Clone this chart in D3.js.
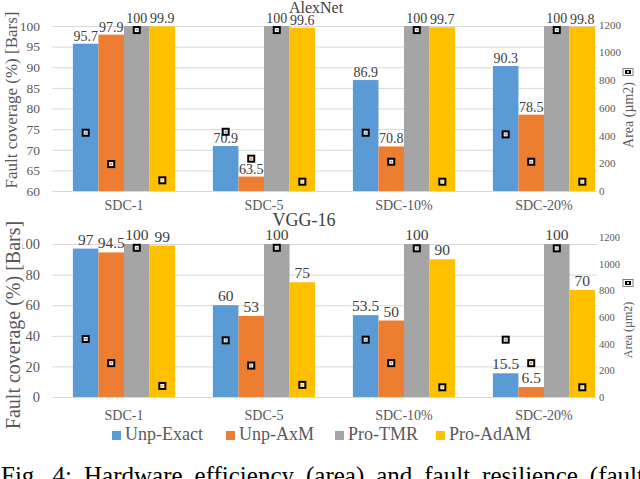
<!DOCTYPE html>
<html><head><meta charset="utf-8">
<script src="https://cdn.jsdelivr.net/npm/d3@7/dist/d3.min.js"></script>
<style>
html,body{margin:0;padding:0;background:#fff;}
svg{display:block;font-family:"Liberation Serif","Times New Roman",serif;}
svg text{font-family:"Liberation Serif","Times New Roman",serif;}
</style></head>
<body>
<svg id="c" width="640" height="479"></svg>
<script>
// ---- data ----
const categories = ["SDC-1", "SDC-5", "SDC-10%", "SDC-20%"];
const seriesNames = ["Unp-Exact", "Unp-AxM", "Pro-TMR", "Pro-AdAM"];
const seriesColors = ["#5B9BD5", "#ED7D31", "#A5A5A5", "#FFC000"];

// AlexNet fault coverage (%)
const alexExact = [95.7, 70.9, 86.9, 90.3];
const alexAxM   = [97.9, 63.5, 70.8, 78.5];
const alexTMR   = [100, 100, 100, 100];
const alexAdAM  = [99.9, 99.6, 99.7, 99.8];
// AlexNet area (um2) markers
const alexAreaExact = [420, 427, 420, 408];
const alexAreaAxM   = [194, 233, 211, 211];
const alexAreaTMR   = [1160, 1160, 1160, 1160];
const alexAreaAdAM  = [77, 67, 67, 67];

// VGG-16 fault coverage (%)
const vggExact = [97, 60, 53.5, 15.5];
const vggAxM   = [94.5, 53, 50, 6.5];
const vggTMR   = [100, 100, 100, 100];
const vggAdAM  = [99, 75, 90, 70];
// VGG-16 area (um2) markers
const vggAreaExact = [435, 425, 430, 430];
const vggAreaAxM   = [254, 236, 254, 254];
const vggAreaTMR   = [1119, 1119, 1115, 1115];
const vggAreaAdAM  = [83, 91, 73, 73];

// tick labels
const alexTicks = [60, 65, 70, 75, 80, 85, 90, 95, 100];
const vggTicks  = [0, 20, 40, 60, 80, 100];
const areaTicks = [0, 200, 400, 600, 800, 1000, 1200];

const captionText = "Fig. 4: Hardware efficiency (area) and fault resilience (fault";

// ---- layout ----
const svg = d3.select("#c");
const plotL = 52, plotR = 597;
const x = d3.scaleBand(categories, [54, 614]).paddingInner(0.27).paddingOuter(0.135);
const xs = d3.scaleBand(seriesNames, [0, x.bandwidth()]);

const panels = [
  { title: "AlexNet", titleX: 316, titleY: 13, titleSize: 16,
    cov: [alexExact, alexAxM, alexTMR, alexAdAM],
    area: [alexAreaExact, alexAreaAxM, alexAreaTMR, alexAreaAdAM],
    yDomain: [60, 100], yRange: [191, 26], rRange: [191, 24.5], ticks: alexTicks,
    tickSize: 13.5, rTickSize: 11, labelSize: 14, labelGap: 3, catPad: 9,
    yTitleX: 11, yTitleY: 100, yTitleSize: 17, yTitleStroke: 4,
    rTitleX: 628, rTitleY: 115, rTitleSize: 14, rIconY: 72 },
  { title: "VGG-16", titleX: 304, titleY: 226, titleSize: 18,
    cov: [vggExact, vggAxM, vggTMR, vggAdAM],
    area: [vggAreaExact, vggAreaAxM, vggAreaTMR, vggAreaAdAM],
    yDomain: [0, 100], yRange: [397, 244], rRange: [397, 237], ticks: vggTicks,
    tickSize: 14.5, rTickSize: 10.5, labelSize: 15.5, labelGap: 4, catPad: 13,
    yTitleX: 13, yTitleY: 325, yTitleSize: 20, yTitleStroke: 5,
    rTitleX: 628, rTitleY: 330, rTitleSize: 12, rIconY: 283 }
];

panels.forEach(p => {
  const g = svg.append("g");
  const y = d3.scaleLinear(p.yDomain, p.yRange);
  const yr = d3.scaleLinear([0, 1200], p.rRange);

  // left axis with gridlines
  const ax = g.append("g").attr("transform", `translate(${plotL},0)`)
    .call(d3.axisLeft(y).tickValues(p.ticks).tickFormat(d3.format("d"))
      .tickSize(-(plotR - plotL)).tickPadding(12));
  ax.attr("font-family", null);
  ax.select(".domain").remove();
  ax.selectAll("line").attr("stroke", "#D9D9D9").attr("stroke-width", 1);
  ax.selectAll("text").attr("fill", "#595959").style("font-size", p.tickSize + "px");

  // right axis
  const ar = g.append("g").attr("transform", `translate(${plotR},0)`)
    .call(d3.axisRight(yr).tickValues(areaTicks).tickFormat(d3.format("d"))
      .tickSize(0).tickPadding(2));
  ar.attr("font-family", null);
  ar.select(".domain").remove();
  ar.selectAll("text").attr("fill", "#595959").style("font-size", p.rTickSize + "px");

  // category axis
  const base = p.yRange[0];
  const ab = g.append("g").attr("transform", `translate(0,${base})`)
    .call(d3.axisBottom(x).tickSize(0).tickPadding(p.catPad));
  ab.attr("font-family", null);
  ab.select(".domain").remove();
  ab.selectAll("text").attr("fill", "#595959").style("font-size", "14px");

  // bars
  seriesNames.forEach((s, si) => {
    const vals = p.cov[si];
    g.append("g").selectAll("rect").data(categories).join("rect")
      .attr("x", (c) => x(c) + xs(s))
      .attr("width", xs.bandwidth())
      .attr("y", (c, i) => y(vals[i]))
      .attr("height", (c, i) => base - y(vals[i]))
      .attr("fill", seriesColors[si]);
  });
  // bar labels
  seriesNames.forEach((s, si) => {
    const vals = p.cov[si];
    g.append("g").selectAll("text").data(categories).join("text")
      .attr("x", (c) => x(c) + xs(s) + xs.bandwidth() / 2)
      .attr("y", (c, i) => y(vals[i]) - p.labelGap)
      .attr("text-anchor", "middle")
      .attr("fill", "#404040")
      .style("font-size", p.labelSize + "px")
      .text((c, i) => vals[i]);
  });
  // area markers
  seriesNames.forEach((s, si) => {
    const vals = p.area[si];
    const mg = g.append("g").selectAll("g").data(categories).join("g")
      .attr("transform", (c, i) => `translate(${x(c) + xs(s) + xs.bandwidth() / 2},${yr(vals[i])})`);
    mg.append("rect").attr("x", -4).attr("y", -4).attr("width", 8).attr("height", 8).attr("fill", "#000");
    mg.append("rect").attr("x", -2).attr("y", -2).attr("width", 4).attr("height", 4).attr("fill", "#fff");
    mg.append("rect").attr("x", -1).attr("y", -1).attr("width", 2).attr("height", 2).attr("fill", seriesColors[si]);
  });

  // chart title
  g.append("text").attr("x", p.titleX).attr("y", p.titleY).attr("text-anchor", "middle")
    .attr("fill", "#404040").style("font-size", p.titleSize + "px").text(p.title);

  // left title
  g.append("text")
    .attr("transform", `translate(${p.yTitleX},${p.yTitleY}) rotate(-90)`)
    .attr("text-anchor", "middle").attr("dy", "0.35em")
    .attr("fill", "#595959").attr("stroke", "#fff").attr("stroke-width", p.yTitleStroke)
    .attr("paint-order", "stroke")
    .style("font-size", p.yTitleSize + "px")
    .text("Fault coverage (%) [Bars]");

  // right title
  g.append("text")
    .attr("transform", `translate(${p.rTitleX},${p.rTitleY}) rotate(-90)`)
    .attr("text-anchor", "middle").attr("dy", "0.35em")
    .attr("fill", "#595959").style("font-size", p.rTitleSize + "px")
    .text("Area (\u00B5m2)");
  const ic = g.append("g").attr("transform", `translate(${p.rTitleX},${p.rIconY})`);
  ic.append("rect").attr("x", -5).attr("y", -3.5).attr("width", 10).attr("height", 7)
    .attr("fill", "#fff").attr("stroke", "#7f7f7f").attr("stroke-width", 1);
  ic.append("rect").attr("x", -3).attr("y", -2).attr("width", 6).attr("height", 4).attr("fill", "#000");
  ic.append("rect").attr("x", -1).attr("y", -0.8).attr("width", 2).attr("height", 1.6).attr("fill", "#fff");
});

// legend
const legendX = [112, 226, 335, 436];
const lg = svg.append("g").selectAll("g").data(seriesNames).join("g")
  .attr("transform", (d, i) => `translate(${legendX[i]},440)`);
lg.append("rect").attr("x", 0).attr("y", -9).attr("width", 9).attr("height", 9)
  .attr("fill", (d, i) => seriesColors[i]);
lg.append("text").attr("x", 13).attr("y", 0).attr("fill", "#595959")
  .style("font-size", "18px").text(d => d);

// caption (justified word by word)
const words = captionText.split(" ");
const capG = svg.append("g");
const wEls = words.map(w => capG.append("text").attr("y", 483.5).attr("fill", "#000")
  .style("font-size", "25px").text(w));
const widths = wEls.map(t => t.node().getComputedTextLength());
const left = 1, right = 644;
const totalW = d3.sum(widths);
const gap = (right - left - totalW) / (words.length - 1);
let cx = left;
wEls.forEach((t, i) => {
  if (i === wEls.length - 1) {
    t.attr("x", right).attr("text-anchor", "end");
  } else {
    t.attr("x", cx);
  }
  cx += widths[i] + gap;
});
</script>
</body></html>
